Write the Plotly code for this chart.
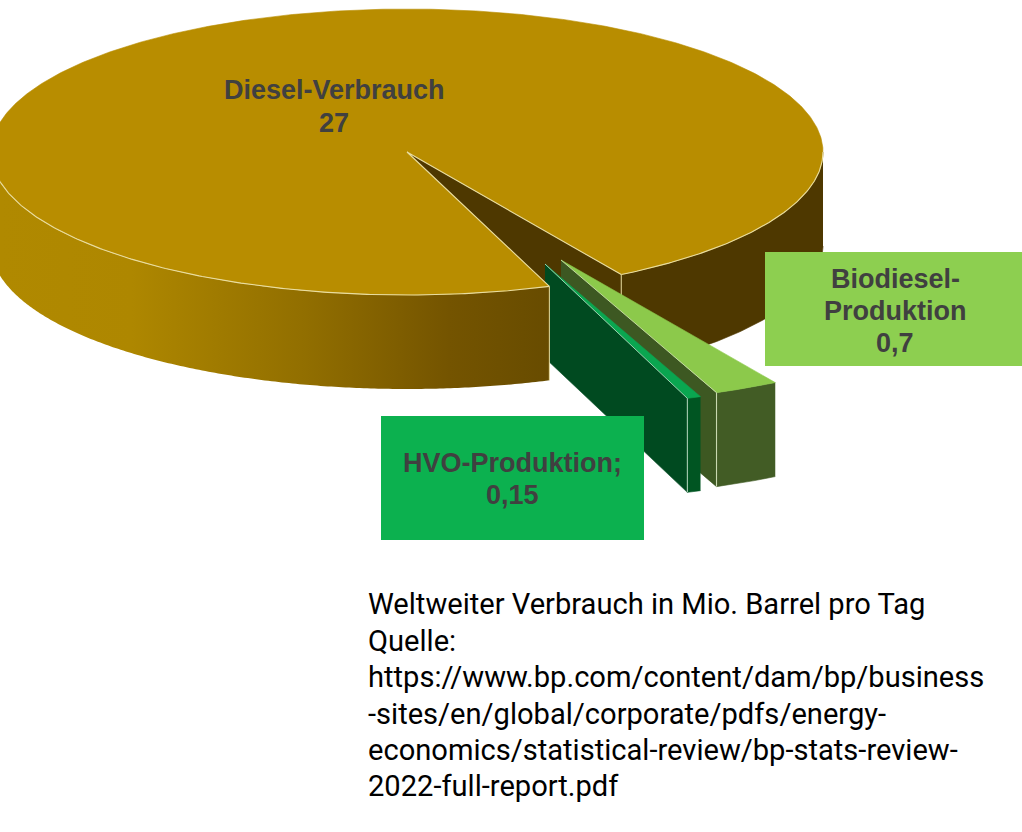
import math
import plotly.graph_objects as go

# ---- data ----
categories = ["Diesel-Verbrauch", "Biodiesel-Produktion", "HVO-Produktion"]
values = [27, 0.7, 0.15]
value_labels = ["27", "0,7", "0,15"]
caption_lines = [
    "Weltweiter Verbrauch in Mio. Barrel pro Tag",
    "Quelle:",
    "https://www.bp.com/content/dam/bp/business",
    "-sites/en/global/corporate/pdfs/energy-",
    "economics/statistical-review/bp-stats-review-",
    "2022-full-report.pdf",
]

# ---- projection of the 3-D pie ----
CX, CY, RX, RY, DEPTH = 407, 152, 416, 143, 94
START = 59.0
OFFSET = {"bio": (154, 108), "hvo": (138, 112)}
EDGE = "#E9DDA0"
total = sum(values)
bio_span = 360 * values[1] / total
hvo_span = 360 * values[2] / total
t_bio0, t_bio1 = START, START + bio_span
t_hvo0, t_hvo1 = t_bio1, t_bio1 + hvo_span
t_die0, t_die1 = t_hvo1, t_hvo1 + 360 * values[0] / total


def pt(t, dx=0, dy=0, down=0):
    a = math.radians(t)
    return CX + dx + RX * math.cos(a), CY + dy + RY * math.sin(a) + down


def arc(t0, t1, dx=0, dy=0, down=0, step=0.5):
    n = max(2, int(abs(t1 - t0) / step))
    return [pt(t0 + (t1 - t0) * i / n, dx, dy, down) for i in range(n + 1)]


fig = go.Figure()


def poly(points, color):
    fig.add_trace(go.Scatter(
        x=[p[0] for p in points], y=[p[1] for p in points], mode="lines",
        fill="toself", fillcolor=color, line=dict(color=color, width=0.6),
        hoverinfo="skip", showlegend=False))


def edge(points, color=EDGE, width=1.1):
    fig.add_trace(go.Scatter(
        x=[p[0] for p in points], y=[p[1] for p in points], mode="lines",
        line=dict(color=color, width=width), hoverinfo="skip", showlegend=False))


def rim(t0, t1, color, dx=0, dy=0):
    poly(arc(t0, t1, dx, dy) + arc(t1, t0, dx, dy, DEPTH), color)


def radial(t, color, dx=0, dy=0):
    c = (CX + dx, CY + dy)
    poly([c, pt(t, dx, dy), pt(t, dx, dy, DEPTH), (c[0], c[1] + DEPTH)], color)


# inner cut face and the right-hand wall of the big slice
radial(START, "#4E3800")
rim(0, START, "#4E3800")
edge([pt(START), pt(START, down=DEPTH)], width=1)

# biodiesel slice
bx, by = OFFSET["bio"]
radial(t_bio1, "#3D5822", bx, by)
rim(t_bio0, t_bio1, "#425C25", bx, by)
poly([(CX + bx, CY + by)] + arc(t_bio0, t_bio1, bx, by), "#8CC94B")
edge([pt(t_bio1, bx, by), pt(t_bio1, bx, by, DEPTH)], "#C9D8B0")
edge([(CX + bx, CY + by), pt(t_bio1, bx, by)], "#C9E0A8", 0.9)

# HVO slice
hx, hy = OFFSET["hvo"]
radial(t_hvo1, "#004A20", hx, hy)
rim(t_hvo0, t_hvo1, "#005522", hx, hy)
poly([(CX + hx, CY + hy)] + arc(t_hvo0, t_hvo1, hx, hy), "#0AA650")
edge([pt(t_hvo1, hx, hy), pt(t_hvo1, hx, hy, DEPTH)], "#A9CDB5")
edge([(CX + hx, CY + hy), pt(t_hvo1, hx, hy)], "#A9DDBD", 0.9)

# front-left wall of the big slice with a horizontal gradient
wall = arc(t_die0, 180) + arc(180, t_die0, down=DEPTH)
fig.add_trace(go.Scatter(
    x=[p[0] for p in wall], y=[p[1] for p in wall], mode="none", fill="toself",
    fillgradient=dict(
        type="horizontal", start=0, stop=548,
        colorscale=[[0, "rgb(176,137,0)"], [0.24, "rgb(174,135,0)"],
                    [0.55, "rgb(146,111,0)"], [0.82, "rgb(116,84,0)"],
                    [1, "rgb(104,76,0)"]]),
    hoverinfo="skip", showlegend=False))
edge([pt(t_die0), pt(t_die0, down=DEPTH)], "#E9DDA0", 1)

# top face of the big slice
poly([(CX, CY)] + arc(t_die0, t_die1), "#B88D00")
edge(arc(t_die0, 180), EDGE)
edge(arc(360, t_die1), EDGE)
edge([pt(t_die0), (CX, CY), pt(START)], EDGE)

# label boxes
shapes = [
    dict(type="rect", xref="x", yref="y", x0=765, x1=1022, y0=252, y1=366,
         fillcolor="#8DCF50", line=dict(width=0), layer="above"),
    dict(type="rect", xref="x", yref="y", x0=381, x1=644, y0=416, y1=540,
         fillcolor="#0CB14F", line=dict(width=0), layer="above"),
]

LABEL_FONT = dict(family="Liberation Sans", size=27, color="#404040")
TEXT_W = "<b>%s</b>"


def label(x, y, text):
    fig.add_annotation(x=x, y=y, text=TEXT_W % text, showarrow=False, xanchor="center",
                       yanchor="middle", font=LABEL_FONT)


label(334, 90, categories[0])
label(334, 123, value_labels[0])
label(895, 279, categories[1].split("-")[0] + "-")
label(895, 311, categories[1].split("-")[1])
label(895, 343, value_labels[1])
label(512, 463, categories[2] + ";")
label(512, 495, value_labels[2])

cap_y = [604, 641, 677, 714, 750, 786]
for txt, y in zip(caption_lines, cap_y):
    fig.add_annotation(x=365.5, y=y, text=txt, showarrow=False, xanchor="left", yanchor="middle",
                       font=dict(family="Roboto", size=29.1, color="#000000"))

fig.update_layout(
    width=1022, height=832, margin=dict(l=0, r=0, t=0, b=0),
    paper_bgcolor="white", plot_bgcolor="white", shapes=shapes, showlegend=False,
    xaxis=dict(range=[0, 1022], visible=False, fixedrange=True),
    yaxis=dict(range=[832, 0], visible=False, fixedrange=True),
)
fig.write_html("out.html", config=dict(displayModeBar=False),
               post_script="document.body.style.margin='0';document.documentElement.style.overflow='hidden';")
